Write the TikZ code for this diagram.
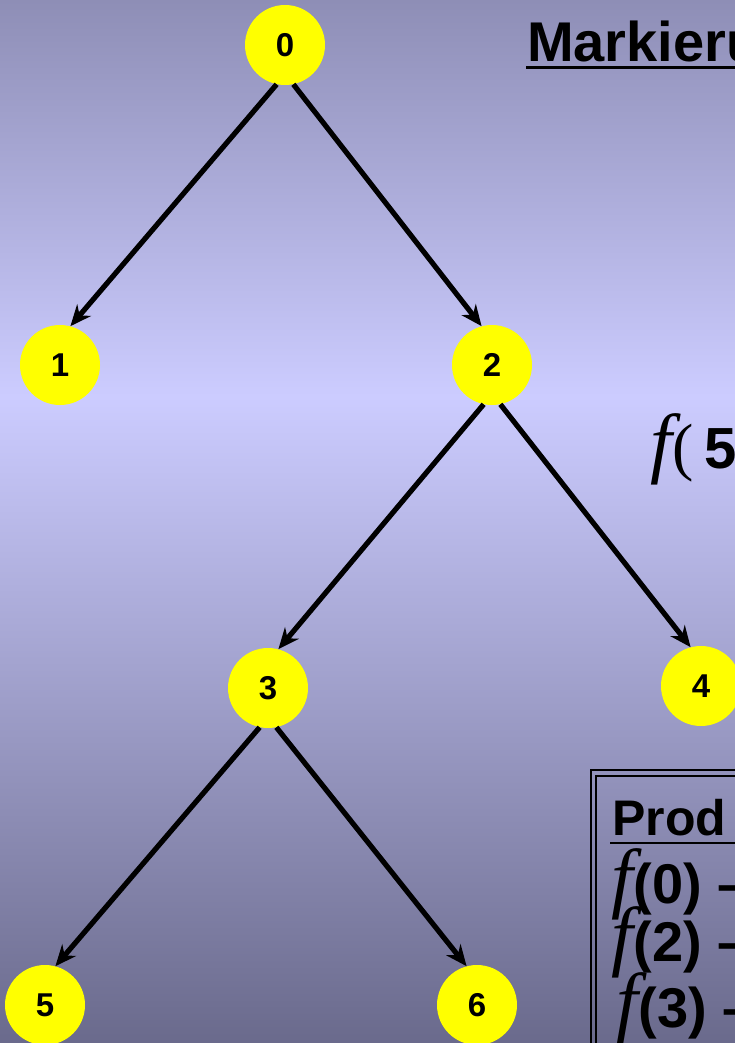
\documentclass[tikz,border=0pt]{standalone}
\usepackage{fontspec}
\setmainfont{Liberation Sans}
\newfontfamily\serifface{Liberation Serif}
\usetikzlibrary{arrows.meta}
\definecolor{bgtop}{RGB}{142,142,182}
\definecolor{bgmid}{RGB}{204,204,255}
\definecolor{bgbot}{RGB}{106,106,140}
\definecolor{nodeyellow}{RGB}{255,255,0}
\pgfdeclareverticalshading{bgshade}{100bp}{color(0bp)=(bgbot); color(25bp)=(bgbot); color(56bp)=(bgmid); color(75bp)=(bgtop); color(100bp)=(bgtop)}
\newcommand{\ff}{{\serifface\mdseries\itshape\fontsize{78}{78}\selectfont f\kern1pt}}
\begin{document}
\begin{tikzpicture}[x=1pt,y=-1pt,
  treenode/.style={circle, fill=nodeyellow, minimum size=80pt, inner sep=0pt, font=\fontsize{33}{36}\selectfont\bfseries},
  edge/.style={line width=5.2pt, -{Stealth[length=21pt,width=18pt]}},
  bigtext/.style={font=\fontsize{56}{62}\selectfont\bfseries, inner sep=0pt, anchor=base west},
  headtext/.style={font=\fontsize{50}{56}\selectfont\bfseries, inner sep=0pt, anchor=base west},
  ulrule/.style={line width=2.5pt},
  boxrule/.style={line width=2pt}]
\useasboundingbox (0,0) rectangle (735,1043);
\shade[shading=bgshade] (0,0) rectangle (735,1043);
\begin{scope}
\clip (0,0) rectangle (735,1043);
% tree
\node[treenode] (n0) at (285,45) {0};
\node[treenode] (n1) at (60,365) {1};
\node[treenode] (n2) at (492,365) {2};
\node[treenode] (n3) at (268,688) {3};
\node[treenode] (n4) at (701,686) {4};
\node[treenode] (n5) at (45,1005) {5};
\node[treenode] (n6) at (477,1005) {6};
\draw[edge] (n0.258) -- (n1.75);
\draw[edge] (n0.282) -- (n2.105);
\draw[edge] (n2.258) -- (n3.75);
\draw[edge] (n2.282) -- (n4.105);
\draw[edge] (n3.258) -- (n5.75);
\draw[edge] (n3.282) -- (n6.105);
% title
\node[bigtext] (title) at (527,62) {Markieru};
\draw[ulrule] (526,67.5) -- (760,67.5);
% middle formula
\node[inner sep=0pt, anchor=base west] (f5) at (650,468) {\ff{\serifface\fontsize{64}{64}\selectfont(}\kern10pt{\fontsize{58}{60}\selectfont\bfseries 5}};
% box
\draw[boxrule] (591,1060) -- (591,770) -- (760,770);
\draw[boxrule] (596,1060) -- (596,776) -- (760,776);
\node[headtext] (prod) at (612,835) {Prod};
\draw[ulrule] (610,843) -- (760,843);
\node[bigtext] (r0) at (611,903) {\ff(0) –};
\node[bigtext] (r2) at (611,961) {\ff(2) –};
\node[bigtext] (r3) at (616,1027) {\ff(3) –};
\end{scope}
\end{tikzpicture}
\end{document}
